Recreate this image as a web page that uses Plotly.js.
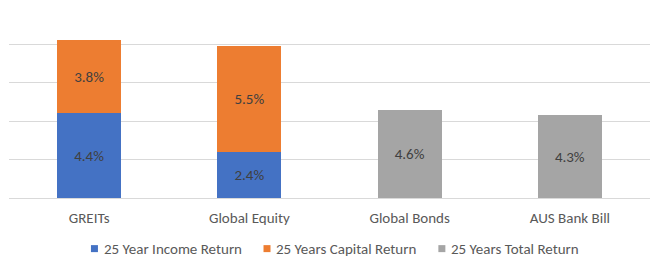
<!DOCTYPE html>
<html><head><meta charset="utf-8">
<script src="https://cdn.plot.ly/plotly-3.0.1.min.js"></script>
<style>html,body{margin:0;padding:0;background:#fff}#c{width:658px;height:267px}</style>
</head><body><div id="c"></div>
<script>
const categories = ["GREITs", "Global Equity", "Global Bonds", "AUS Bank Bill"];
const incomeReturn = [4.4, 2.4, null, null];
const capitalReturn = [3.8, 5.5, null, null];
const totalReturn = [null, null, 4.6, 4.3];
const seriesNames = ["25 Year Income Return", "25 Years Capital Return", "25 Years Total Return"];
const colors = ["#4472C4", "#ED7D31", "#A5A5A5"];
const seriesValues = [incomeReturn, capitalReturn, totalReturn];

const FONT = "Carlito, Lato, sans-serif";
const traces = seriesValues.map((vals, i) => ({
  type: "bar", x: categories, y: vals, name: seriesNames[i],
  marker: {color: colors[i], line: {width: 0}},
  text: vals.map(v => v == null ? "" : v.toFixed(1) + "%"),
  textposition: "inside", insidetextanchor: "middle",
  textfont: {family: FONT, size: 15, color: "#404040"},
  hoverinfo: "skip", showlegend: false
}));

// legend drawn as layout items (square + label) built from the series names
const legendSquareX = [0.1333, 0.4025, 0.6753];
const legendTextX = [0.1445, 0.4130, 0.6858];
const legendY = -0.2926;
const shapes = seriesNames.map((n, i) => ({
  type: "rect", xref: "paper", yref: "paper", xsizemode: "pixel", ysizemode: "pixel",
  xanchor: legendSquareX[i], yanchor: legendY, x0: -3.5, x1: 3.5, y0: -3.5, y1: 3.5,
  fillcolor: colors[i], line: {width: 0}
}));
const annotations = seriesNames.map((n, i) => ({
  text: n, xref: "paper", yref: "paper", x: legendTextX[i], y: legendY,
  xanchor: "left", yanchor: "middle", showarrow: false,
  font: {family: FONT, size: 15, color: "#595959"}
}));

const layout = {
  width: 658, height: 267,
  margin: {l: 8.5, r: 8, t: 25, b: 68.7},
  barmode: "stack", bargap: 0.6,
  paper_bgcolor: "#fff", plot_bgcolor: "#fff",
  font: {family: FONT, size: 15, color: "#595959"},
  xaxis: {type: "category", showgrid: false, zeroline: false, showline: false, ticks: "",
          ticklabelstandoff: 9, tickfont: {family: FONT, size: 15, color: "#595959"}},
  yaxis: {range: [0, 9], dtick: 2, tick0: 0, showticklabels: false, gridcolor: "#D9D9D9", gridwidth: 1,
          zeroline: true, zerolinecolor: "#D9D9D9", zerolinewidth: 1, showline: false, ticks: ""},
  showlegend: false,
  shapes: shapes,
  annotations: annotations
};
Plotly.newPlot("c", traces, layout, {staticPlot: true, displayModeBar: false});
</script></body></html>
